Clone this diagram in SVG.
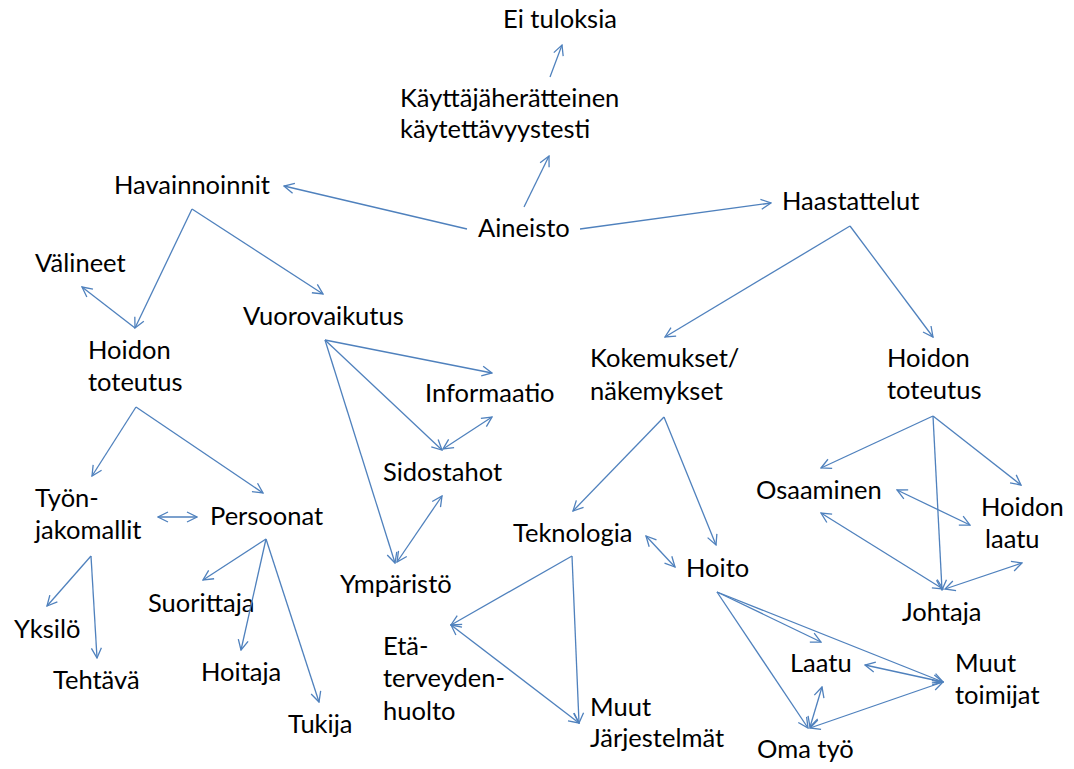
<svg xmlns="http://www.w3.org/2000/svg" width="1074" height="769" viewBox="0 0 1074 769">
  <style>
    text { font-family: Lato, "Liberation Sans", sans-serif; font-size: 25.5px; fill: #000; }
    .c line { stroke: #4F81BD; stroke-width: 1.3; fill: none; marker-end: url(#ah); }
    .c line.bi { marker-start: url(#ah); }
  </style>
  <defs>
    <marker id="ah" viewBox="0 0 12 12" refX="11" refY="6" markerWidth="12" markerHeight="12" markerUnits="userSpaceOnUse" orient="auto-start-reverse">
      <path d="M1,1 L11,6 L1,11" fill="none" stroke="#4F81BD" stroke-width="1.3"/>
    </marker>
  </defs>
  <rect width="1074" height="769" fill="#fff"/>

  <!-- nodes -->
  <g id="ei-tuloksia"><text x="503" y="28">Ei tuloksia</text></g>
  <g id="kayttajaheratteinen"><text x="400" y="107">Käyttäjäherätteinen</text><text x="400" y="138">käytettävyystesti</text></g>
  <g id="havainnoinnit"><text x="114" y="194">Havainnoinnit</text></g>
  <g id="aineisto"><text x="478" y="237">Aineisto</text></g>
  <g id="haastattelut"><text x="782" y="210">Haastattelut</text></g>
  <g id="valineet"><text x="35" y="272">Välineet</text></g>
  <g id="vuorovaikutus"><text x="243" y="325">Vuorovaikutus</text></g>
  <g id="hoidon-toteutus-1"><text x="88" y="359">Hoidon</text><text x="88" y="391">toteutus</text></g>
  <g id="informaatio"><text x="425" y="402">Informaatio</text></g>
  <g id="kokemukset"><text x="590" y="367">Kokemukset/</text><text x="590" y="400">näkemykset</text></g>
  <g id="hoidon-toteutus-2"><text x="887" y="367">Hoidon</text><text x="887" y="399">toteutus</text></g>
  <g id="sidostahot"><text x="383" y="481">Sidostahot</text></g>
  <g id="osaaminen"><text x="756" y="499">Osaaminen</text></g>
  <g id="tyonjakomallit"><text x="35" y="507">Työn-</text><text x="35" y="539">jakomallit</text></g>
  <g id="persoonat"><text x="210" y="525">Persoonat</text></g>
  <g id="hoidon-laatu"><text x="981" y="516">Hoidon</text><text x="985" y="548">laatu</text></g>
  <g id="teknologia"><text x="513" y="542">Teknologia</text></g>
  <g id="hoito"><text x="686" y="577">Hoito</text></g>
  <g id="ymparisto"><text x="340" y="593">Ympäristö</text></g>
  <g id="suorittaja"><text x="148" y="612">Suorittaja</text></g>
  <g id="johtaja"><text x="902" y="621">Johtaja</text></g>
  <g id="yksilo"><text x="14" y="638">Yksilö</text></g>
  <g id="etaterveydenhuolto"><text x="383" y="655">Etä-</text><text x="383" y="687">terveyden-</text><text x="383" y="720">huolto</text></g>
  <g id="laatu"><text x="790" y="672">Laatu</text></g>
  <g id="muut-toimijat"><text x="955" y="672">Muut</text><text x="955" y="704">toimijat</text></g>
  <g id="hoitaja"><text x="201" y="681">Hoitaja</text></g>
  <g id="tehtava"><text x="53" y="689">Tehtävä</text></g>
  <g id="tukija"><text x="288" y="733">Tukija</text></g>
  <g id="muut-jarjestelmat"><text x="590" y="716">Muut</text><text x="590" y="747">Järjestelmät</text></g>
  <g id="oma-tyo"><text x="757" y="758">Oma työ</text></g>

  <!-- connectors -->
  <g class="c" id="connectors">
    <line x1="467" y1="229" x2="284" y2="186"/>
    <line x1="524" y1="207" x2="549" y2="156"/>
    <line x1="550" y1="77" x2="562" y2="45"/>
    <line x1="580" y1="229" x2="771" y2="203"/>
    <line x1="192" y1="209" x2="135" y2="328"/>
    <line x1="192" y1="209" x2="323" y2="294"/>
    <line x1="135" y1="328" x2="82" y2="287"/>
    <line x1="325" y1="340" x2="492" y2="373"/>
    <line x1="325" y1="340" x2="442" y2="450"/>
    <line x1="325" y1="340" x2="395" y2="563"/>
    <line class="bi" x1="443" y1="449" x2="492" y2="417"/>
    <line class="bi" x1="397" y1="562" x2="442" y2="496"/>
    <line x1="136" y1="407" x2="92" y2="476"/>
    <line x1="136" y1="407" x2="263" y2="493"/>
    <line class="bi" x1="158" y1="517" x2="197" y2="517"/>
    <line x1="91" y1="556" x2="47" y2="606"/>
    <line x1="91" y1="556" x2="97" y2="658"/>
    <line x1="266" y1="539" x2="203" y2="580"/>
    <line x1="266" y1="539" x2="241" y2="650"/>
    <line x1="266" y1="539" x2="319" y2="702"/>
    <line x1="850" y1="226" x2="665" y2="337"/>
    <line x1="850" y1="226" x2="933" y2="337"/>
    <line x1="664" y1="417" x2="573" y2="511"/>
    <line x1="664" y1="417" x2="716" y2="545"/>
    <line class="bi" x1="646" y1="536" x2="675" y2="567"/>
    <line x1="933" y1="416" x2="821" y2="468"/>
    <line x1="933" y1="416" x2="1021" y2="485"/>
    <line x1="933" y1="416" x2="942" y2="590"/>
    <line class="bi" x1="897" y1="490" x2="970" y2="525"/>
    <line class="bi" x1="821" y1="513" x2="943" y2="589"/>
    <line class="bi" x1="945" y1="589" x2="1022" y2="563"/>
    <line x1="572" y1="556" x2="451" y2="625"/>
    <line x1="572" y1="556" x2="579" y2="723"/>
    <line class="bi" x1="451" y1="625" x2="579" y2="723"/>
    <line x1="717" y1="592" x2="821" y2="642"/>
    <line x1="717" y1="592" x2="943" y2="682"/>
    <line x1="717" y1="592" x2="808" y2="728"/>
    <line class="bi" x1="865" y1="665" x2="943" y2="682"/>
    <line class="bi" x1="810" y1="727" x2="822" y2="687"/>
    <line class="bi" x1="810" y1="728" x2="943" y2="682"/>
  </g>
</svg>
